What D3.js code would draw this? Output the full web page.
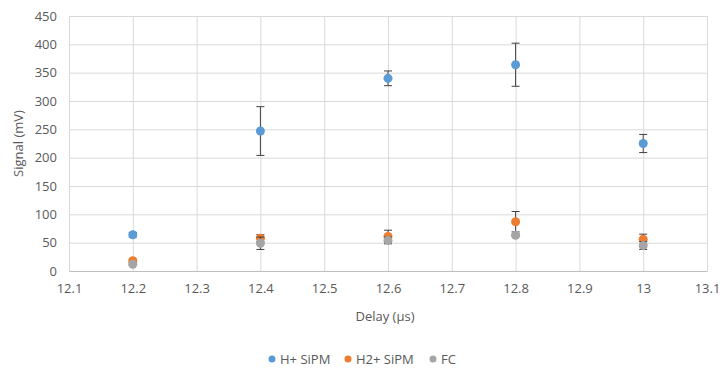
<!DOCTYPE html>
<html lang="en">
  <head>
    <meta charset="UTF-8" />
    <title>Signal vs Delay</title>
    <style>
      body { margin: 0; background: #fff; }
      text { font-family: "Open Sans", "Liberation Sans", sans-serif; fill: #595959; }
    </style>
  </head>
  <body>
    <div class="chart"></div>
    <script src="https://d3js.org/d3.v7.min.js"></script>
    <script>
      // data
      const delays = [12.2, 12.4, 12.6, 12.8, 13.0];
      const seriesNames = ["H+ SiPM", "H2+ SiPM", "FC"];
      const hPlus = [64, 247, 340, 364, 225];
      const hPlusErr = [4, 43, 13, 38, 16];
      const h2Plus = [18, 58, 61, 87, 56];
      const h2PlusErr = [3, 6, 11, 18, 9];
      const fc = [12, 49, 54, 63, 45];
      const fcErr = [2, 11, 6, 2, 7];
      const xTicks = [12.1, 12.2, 12.3, 12.4, 12.5, 12.6, 12.7, 12.8, 12.9, 13, 13.1];
      const yTicks = [0, 50, 100, 150, 200, 250, 300, 350, 400, 450];
      const colors = ["#5b9bd5", "#ed7d31", "#a5a5a5"];

      const drawChart = () => {
        const width = 720;
        const height = 377;
        const left = 69, right = 707, top = 16, bottom = 271;

        const svg = d3
          .select(".chart")
          .append("svg")
          .attr("width", width)
          .attr("height", height);

        const xScale = d3.scaleLinear().domain([12.1, 13.1]).range([left, right]);
        const yScale = d3.scaleLinear().domain([0, 450]).range([bottom, top]);

        // gridlines
        const xGrid = d3.axisBottom(xScale).tickValues(xTicks).tickSize(-(bottom - top)).tickFormat("");
        svg.append("g")
          .attr("transform", `translate(0,${bottom})`)
          .call(xGrid)
          .call((g) => g.select(".domain").remove())
          .call((g) => g.selectAll("line").attr("stroke", "#d9d9d9"));

        const yGrid = d3.axisLeft(yScale).tickValues(yTicks).tickSize(-(right - left)).tickFormat("");
        svg.append("g")
          .attr("transform", `translate(${left},0)`)
          .call(yGrid)
          .call((g) => g.select(".domain").remove())
          .call((g) => g.selectAll("line").attr("stroke", "#d9d9d9"));

        // axis labels
        const xAxis = d3.axisBottom(xScale).tickValues(xTicks).tickSize(0).tickPadding(13)
          .tickFormat((d) => d3.format("")(+d.toFixed(1)));
        svg.append("g")
          .attr("transform", `translate(0,${bottom})`)
          .call(xAxis)
          .call((g) => g.select(".domain").attr("stroke", "#bfbfbf"))
          .call((g) => g.selectAll("text").attr("font-size", 13).attr("fill", "#595959"));

        const yAxis = d3.axisLeft(yScale).tickValues(yTicks).tickSize(0).tickPadding(12);
        svg.append("g")
          .attr("transform", `translate(${left},0)`)
          .call(yAxis)
          .call((g) => g.select(".domain").remove())
          .call((g) => g.selectAll("text").attr("font-size", 13).attr("fill", "#595959"));

        svg.append("text")
          .attr("x", 385)
          .attr("y", 321)
          .attr("text-anchor", "middle")
          .attr("font-size", 13)
          .attr("fill", "#595959")
          .text("Delay (µs)");

        svg.append("text")
          .attr("transform", `translate(23,${(top + bottom) / 2}) rotate(-90)`)
          .attr("text-anchor", "middle")
          .attr("font-size", 13)
          .attr("fill", "#595959")
          .text("Signal (mV)");

        // series
        const series = [
          { values: hPlus, errs: hPlusErr },
          { values: h2Plus, errs: h2PlusErr },
          { values: fc, errs: fcErr },
        ];

        series.forEach((s, i) => {
          const pts = delays.map((d, j) => ({ x: d, y: s.values[j], e: s.errs[j] }));
          const g = svg.append("g");
          const eb = g.selectAll(".err").data(pts).join("g").attr("stroke", "#404040").attr("stroke-width", 1);
          eb.append("line")
            .attr("x1", (d) => xScale(d.x)).attr("x2", (d) => xScale(d.x))
            .attr("y1", (d) => yScale(d.y - d.e)).attr("y2", (d) => yScale(d.y + d.e));
          eb.append("line")
            .attr("x1", (d) => xScale(d.x) - 4).attr("x2", (d) => xScale(d.x) + 4)
            .attr("y1", (d) => yScale(d.y + d.e)).attr("y2", (d) => yScale(d.y + d.e));
          eb.append("line")
            .attr("x1", (d) => xScale(d.x) - 4).attr("x2", (d) => xScale(d.x) + 4)
            .attr("y1", (d) => yScale(d.y - d.e)).attr("y2", (d) => yScale(d.y - d.e));
          g.selectAll("circle").data(pts).join("circle")
            .attr("cx", (d) => xScale(d.x))
            .attr("cy", (d) => yScale(d.y))
            .attr("r", 4.5)
            .attr("fill", colors[i]);
        });

        // legend
        const legendX = [272, 348, 433];
        const legend = svg.append("g");
        seriesNames.forEach((name, i) => {
          legend.append("circle").attr("cx", legendX[i]).attr("cy", 359).attr("r", 3.5).attr("fill", colors[i]);
          legend.append("text").attr("x", legendX[i] + 8).attr("y", 363.5).attr("font-size", 13)
            .attr("fill", "#595959").text(name);
        });
      };

      drawChart();
    </script>
  </body>
</html>
